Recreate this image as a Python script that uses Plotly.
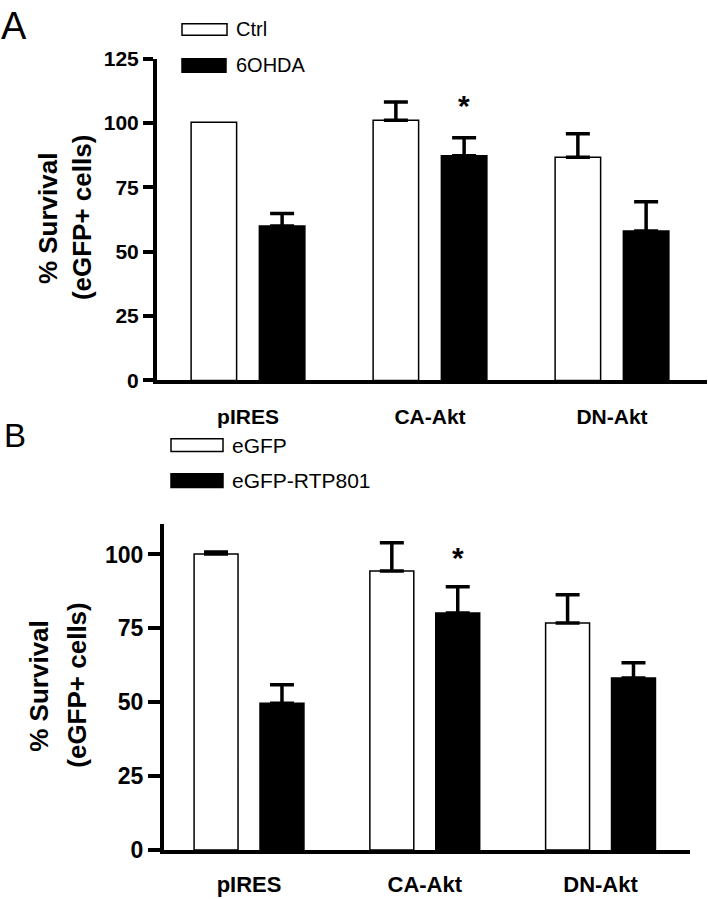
import plotly.graph_objects as go

W, H = 708, 899

# ---------------- data ----------------
categories = ["pIRES", "CA-Akt", "DN-Akt"]
x_pos = [0, 1, 2]

a_ctrl = [100.3, 101.1, 86.7]
a_ctrl_err = [0.0, 7.1, 9.1]
a_6ohda = [60.0, 87.3, 58.1]
a_6ohda_err = [4.9, 7.0, 11.3]

b_egfp = [100.2, 94.4, 76.8]
b_egfp_err = [0.6, 9.6, 9.6]
b_rtp801 = [49.7, 80.2, 58.2]
b_rtp801_err = [6.2, 8.9, 5.2]

y_ticks_a = [0, 25, 50, 75, 100, 125]
y_ticks_b = [0, 25, 50, 75, 100]

legend_a = ["Ctrl", "6OHDA"]
legend_b = ["eGFP", "eGFP-RTP801"]


def px(x):
    return x / W


def py(y):
    return 1 - y / H


FONT = "Liberation Sans, Arial, sans-serif"
BAR_W = 0.25
OFF_L = -0.3125
OFF_R = 0.0625


def bar(xs, ys, err, fill, xa, ya, show_err=True):
    return go.Bar(
        x=xs, y=ys, width=BAR_W,
        offset=OFF_L if fill == "white" else OFF_R,
        marker=dict(color=fill, line=dict(color="black", width=1.5)),
        error_y=dict(type="data", array=err, arrayminus=[0] * len(err), symmetric=False,
                     color="black", thickness=3.5, width=12, visible=show_err),
        xaxis=xa, yaxis=ya, showlegend=False, hoverinfo="skip",
    )


fig = go.Figure()
fig.add_trace(bar(x_pos[1:], a_ctrl[1:], a_ctrl_err[1:], "white", "x", "y"))
fig.add_trace(bar(x_pos[:1], a_ctrl[:1], a_ctrl_err[:1], "white", "x", "y", show_err=False))
fig.add_trace(bar(x_pos, a_6ohda, a_6ohda_err, "black", "x", "y"))
fig.add_trace(bar(x_pos, b_egfp, b_egfp_err, "white", "x2", "y2"))
fig.add_trace(bar(x_pos, b_rtp801, b_rtp801_err, "black", "x2", "y2"))

yaxis_common = dict(showgrid=False, zeroline=False, showline=True, linecolor="black",
                    linewidth=4, ticks="outside", tickcolor="black", tickwidth=4,
                    color="black")
xaxis_common = dict(showgrid=False, zeroline=False, showline=True, linecolor="black",
                    linewidth=4, ticks="", tickvals=x_pos, ticktext=categories,
                    color="black")

fig.update_layout(
    width=W, height=H, autosize=False,
    margin=dict(l=0, r=0, t=0, b=0),
    paper_bgcolor="white", plot_bgcolor="white",
    barmode="overlay",
    font=dict(family=FONT, color="black"),
    xaxis=dict(xaxis_common, domain=[px(157), px(707)], range=[-0.5, 2.522], anchor="y",
               tickfont=dict(family=FONT, size=21, weight="bold"), ticklabelstandoff=14),
    yaxis=dict(yaxis_common, domain=[py(379), py(48)], range=[0, 125], anchor="x",
               tickvals=y_ticks_a, ticklen=10,
               tickfont=dict(family=FONT, size=21, weight="bold")),
    xaxis2=dict(xaxis_common, domain=[px(164), px(690)], range=[-0.4837, 2.509], anchor="y2",
                tickfont=dict(family=FONT, size=22, weight="bold"), ticklabelstandoff=12),
    yaxis2=dict(yaxis_common, domain=[py(862), py(527)], range=[0, 110.2], anchor="x2",
                tickvals=y_ticks_b, ticklen=12,
                tickfont=dict(family=FONT, size=23, weight="bold")),
)

ann = []
# panel letters
ann.append(dict(text="A", x=px(14), y=py(14), xref="paper", yref="paper", showarrow=False,
                xanchor="center", yanchor="middle", font=dict(family=FONT, size=38)))
ann.append(dict(text="B", x=px(15), y=py(436), xref="paper", yref="paper", showarrow=False,
                xanchor="center", yanchor="middle", font=dict(family=FONT, size=33)))
# y axis titles
for (x1, x2, yc) in [(48, 82, 212), (39, 77, 693)]:
    ann.append(dict(text="% Survival", x=px(x1), y=py(yc), xref="paper", yref="paper",
                    showarrow=False, textangle=-90, xanchor="center", yanchor="middle",
                    font=dict(family=FONT, size=26, weight="bold")))
    ann.append(dict(text="(eGFP+ cells)", x=px(x2), y=py(yc), xref="paper", yref="paper",
                    showarrow=False, textangle=-90, xanchor="center", yanchor="middle",
                    font=dict(family=FONT, size=26, weight="bold")))
# significance asterisks
ann.append(dict(text="*", x=1 + OFF_R + BAR_W / 2, y=107, xref="x", yref="y", showarrow=False,
                xanchor="center", yanchor="middle", font=dict(family=FONT, size=30, weight="bold")))
ann.append(dict(text="*", x=1 + OFF_R + BAR_W / 2, y=99, xref="x2", yref="y2", showarrow=False,
                xanchor="center", yanchor="middle", font=dict(family=FONT, size=30, weight="bold")))

# legends (manual keys)
shapes = []
legend_specs = [
    (legend_a, [(182, 227, 12, 24), (182, 226, 48, 62)], 234, 20),
    (legend_b, [(171, 223, 439, 452), (171, 223, 475, 489)], 230, 21),
]
fills = ["white", "black"]
for labels, boxes, tx, fs in legend_specs:
    for lab, (x0, x1, y0, y1), fc in zip(labels, boxes, fills):
        shapes.append(dict(type="rect", xref="paper", yref="paper",
                           x0=px(x0), x1=px(x1), y0=py(y1), y1=py(y0),
                           fillcolor=fc, line=dict(color="black", width=1.5)))
        ann.append(dict(text=lab, x=px(tx), y=py((y0 + y1) / 2), xref="paper", yref="paper",
                        showarrow=False, xanchor="left", yanchor="middle",
                        font=dict(family=FONT, size=fs)))

fig.update_layout(annotations=ann, shapes=shapes)
fig.write_html("out.html", config={"displayModeBar": False},
               post_script="document.body.style.margin='0';document.body.style.padding='0';"
                           "document.documentElement.style.overflow='hidden';")
